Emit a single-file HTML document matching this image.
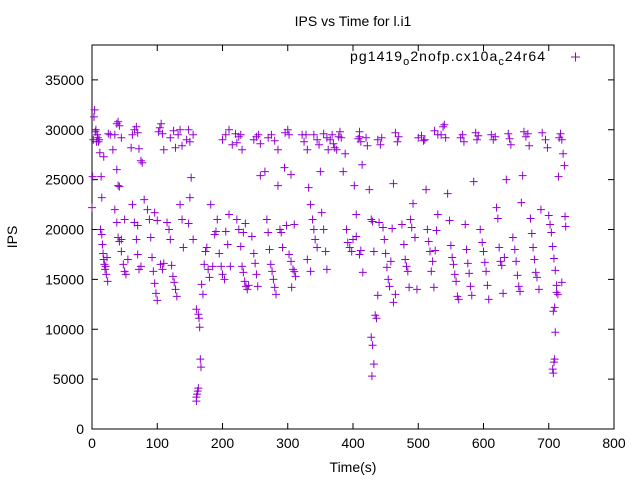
<!DOCTYPE html>
<html><head><meta charset="utf-8"><style>
body{margin:0;background:#fff}
svg{display:block;font-family:"Liberation Sans",sans-serif}
</style></head><body>
<svg id="chart" width="640" height="480" viewBox="0 0 640 480" xmlns="http://www.w3.org/2000/svg">
<rect width="640" height="480" fill="#fff"/>
<text x="353" y="26" font-size="14" text-anchor="middle">IPS vs Time for l.i1</text>
<g id="axes"></g>
<g id="marks"></g>
<g>
<text x="350" y="61" font-size="14" textLength="195" lengthAdjust="spacing">pg1419<tspan font-size="11" dy="4">o</tspan><tspan dy="-4">2nofp.cx10a</tspan><tspan font-size="11" dy="4">c</tspan><tspan dy="-4">24r64</tspan></text>
<path d="M571 57h9M575.5 52.5v9" stroke="#9400d3" stroke-width="1"/>
</g>
<text x="353" y="472" font-size="14" text-anchor="middle">Time(s)</text>
<text transform="translate(17,237) rotate(-90)" font-size="14" text-anchor="middle">IPS</text>
</svg>
<script>
const xTicks=[0,100,200,300,400,500,600,700,800];
const yTicks=[0,5000,10000,15000,20000,25000,30000,35000];
const times=[0,1,2,3,4,5,6,7,8,9,10,11,12,14,13,15,16,17,18,19,20,21,22,23,24,15,18,25,28,
32,35,38,40,42,45,38,40,42,35,38,40,42,45,48,50,52,55,45,50,
60,62,65,68,70,72,75,77,80,62,65,68,70,72,75,70,
85,88,90,92,94,96,98,100,96,100,102,104,106,108,110,105,108,110,
115,118,120,122,124,126,128,130,120,125,128,132,135,138,135,138,140,
145,148,150,152,150,148,155,155,160,163,164,165,166,167,163,162,161,160,160,168,170,172,174,176,178,180,182,
185,188,190,192,195,198,200,203,205,208,210,200,205,210,215,212,
220,222,225,228,230,222,225,228,230,232,234,236,238,240,232,235,245,248,250,252,254,248,252,255,258,258,
265,268,270,272,274,276,278,280,282,270,275,280,285,285,288,290,292,295,296,300,302,305,298,302,305,308,310,312,306,310,
322,325,328,330,332,335,338,340,342,345,330,335,340,345,348,350,352,355,358,360,355,360,362,
365,368,370,372,375,378,380,382,385,388,390,392,395,398,400,402,405,408,410,412,414,405,410,415,412,410,
420,422,425,428,430,432,428,430,432,429,434,436,438,440,442,444,438,446,448,450,452,454,456,458,460,462,465,468,470,462,465,
475,478,480,482,484,486,488,490,492,495,498,500,505,508,510,512,514,516,518,520,522,524,526,528,530,530,525,
535,538,540,542,545,548,550,552,554,556,558,560,562,565,568,570,572,574,576,578,580,582,585,588,590,592,595,598,600,602,604,606,608,
612,615,618,620,622,624,626,628,630,632,635,638,640,642,645,648,650,652,654,656,658,660,662,665,668,670,672,674,676,678,680,682,685,688,
690,695,698,700,702,704,706,708,710,712,707,709,710,706,707,708,709,712,714,716,718,720,722,724,725,726,715,720];
const ips=[22200,25300,29000,31300,32000,29800,30000,28800,29500,29200,28800,29000,27700,25300,20000,19500,18500,17600,17000,16500,16000,16300,15500,17200,14800,23200,27300,29600,29500,
28000,29500,30600,30800,30400,29200,26000,24400,24300,22000,20700,19200,18800,17800,16500,15800,15500,17000,19000,21000,
28200,29500,30000,30300,29700,28100,26900,26700,23000,22500,20700,19000,17500,16000,16300,20400,
22000,21000,19200,17200,15800,14600,13600,12900,21700,20900,29800,30200,30600,29600,28000,16500,16000,16600,
20700,20000,19000,16400,15300,14700,14000,13300,29200,29900,28200,29500,30000,28400,22500,21000,18200,
29000,30000,28800,25200,23200,20600,19000,29500,12000,11500,11100,10200,7000,6200,4100,3800,3500,3200,2800,14500,13500,16500,17800,18200,16000,15200,22500,
16300,19500,19800,21000,17600,16300,15500,15000,19800,18500,21500,29000,29500,30000,28500,16300,
29600,28700,29300,29500,28000,21000,20000,18300,16300,15700,14800,14300,14000,14400,19700,20600,19300,17600,16600,15500,14300,29000,29300,29500,28600,25400,
25800,21000,19700,18000,16500,15800,15000,14200,13500,29200,29500,28900,28000,24400,20000,19700,18200,26200,29700,30000,29500,25500,20400,17500,16800,16000,15800,15300,14200,20500,
29500,28800,29500,28000,24200,22500,21000,20000,19000,18200,17000,15800,29500,29000,28500,25800,21700,20000,17800,16000,29600,29200,28000,
29000,29500,28600,28200,28000,29300,29800,29200,25800,27600,20000,18700,18200,17800,19000,24400,21500,29100,29300,28800,26500,19300,17500,15700,17900,29800,
29200,28400,24000,21000,20800,17800,9200,8400,6500,5300,11400,11100,13400,20700,28500,29200,29000,20200,19000,17600,16200,15000,14300,16800,20100,24600,29700,28800,29300,12700,13500,
20500,18500,17000,16300,15800,14200,21000,20200,22600,19200,14000,29200,29400,28900,29000,24000,20000,18800,17800,15800,16800,14200,17900,19900,21500,29500,29900,
29500,30300,30500,29200,23600,20900,18400,17200,16500,15500,14800,13300,13000,29200,29500,28800,20500,18000,16600,15600,14300,13400,24800,29700,29000,29400,20000,18700,17800,16700,15800,14400,13000,
29500,29000,29300,22200,21100,18200,16800,16400,13600,17200,25000,29600,29100,28500,19200,18000,16800,15400,14300,13800,22700,25400,29800,29300,29600,28400,21100,19600,18200,17000,15700,15200,14000,22000,
29700,29000,28200,21400,20500,19700,18300,17100,15900,14400,11800,12200,9700,6000,5600,6700,7000,13700,13500,29200,29600,29000,27600,26400,21300,20300,25300,14700];
const NS='http://www.w3.org/2000/svg';
const L=92,R=614,T=45,B=429,XMAX=800,YMAX=38500;
function sx(v){return L+v/XMAX*(R-L);}
function sy(v){return B-v/YMAX*(B-T);}
const axes=document.getElementById('axes');
const marks=document.getElementById('marks');
function mk(tag,attrs,parent){const e=document.createElementNS(NS,tag);for(const k in attrs)e.setAttribute(k,attrs[k]);parent.appendChild(e);return e;}
const frame=mk('rect',{x:L,y:T,width:R-L,height:B-T,fill:'none',stroke:'#000','stroke-width':1},axes);


xTicks.forEach(v=>{
  const x=sx(v);
  const t=mk('path',{d:`M${x} ${B}v-6M${x} ${T}v6`,stroke:'#000','stroke-width':1},axes);
  
  
  const lb=mk('text',{x:x,y:B+19,'font-size':14,'text-anchor':'middle'},axes);
  lb.textContent=v;
  
  
});
yTicks.forEach(v=>{
  const y=sy(v);
  const t=mk('path',{d:`M${L} ${y}h6M${R} ${y}h-6`,stroke:'#000','stroke-width':1},axes);
  
  
  const lb=mk('text',{x:L-8,y:y+5,'font-size':14,'text-anchor':'end'},axes);
  lb.textContent=v;
  
  
});
times.forEach((t,i)=>{
  const x=sx(t),y=sy(ips[i]);
  const p=mk('path',{d:`M${x-4} ${y}h8M${x} ${y-4}v8`,stroke:'#9400d3','stroke-width':1},marks);
  
  
});
</script>
</body></html>
